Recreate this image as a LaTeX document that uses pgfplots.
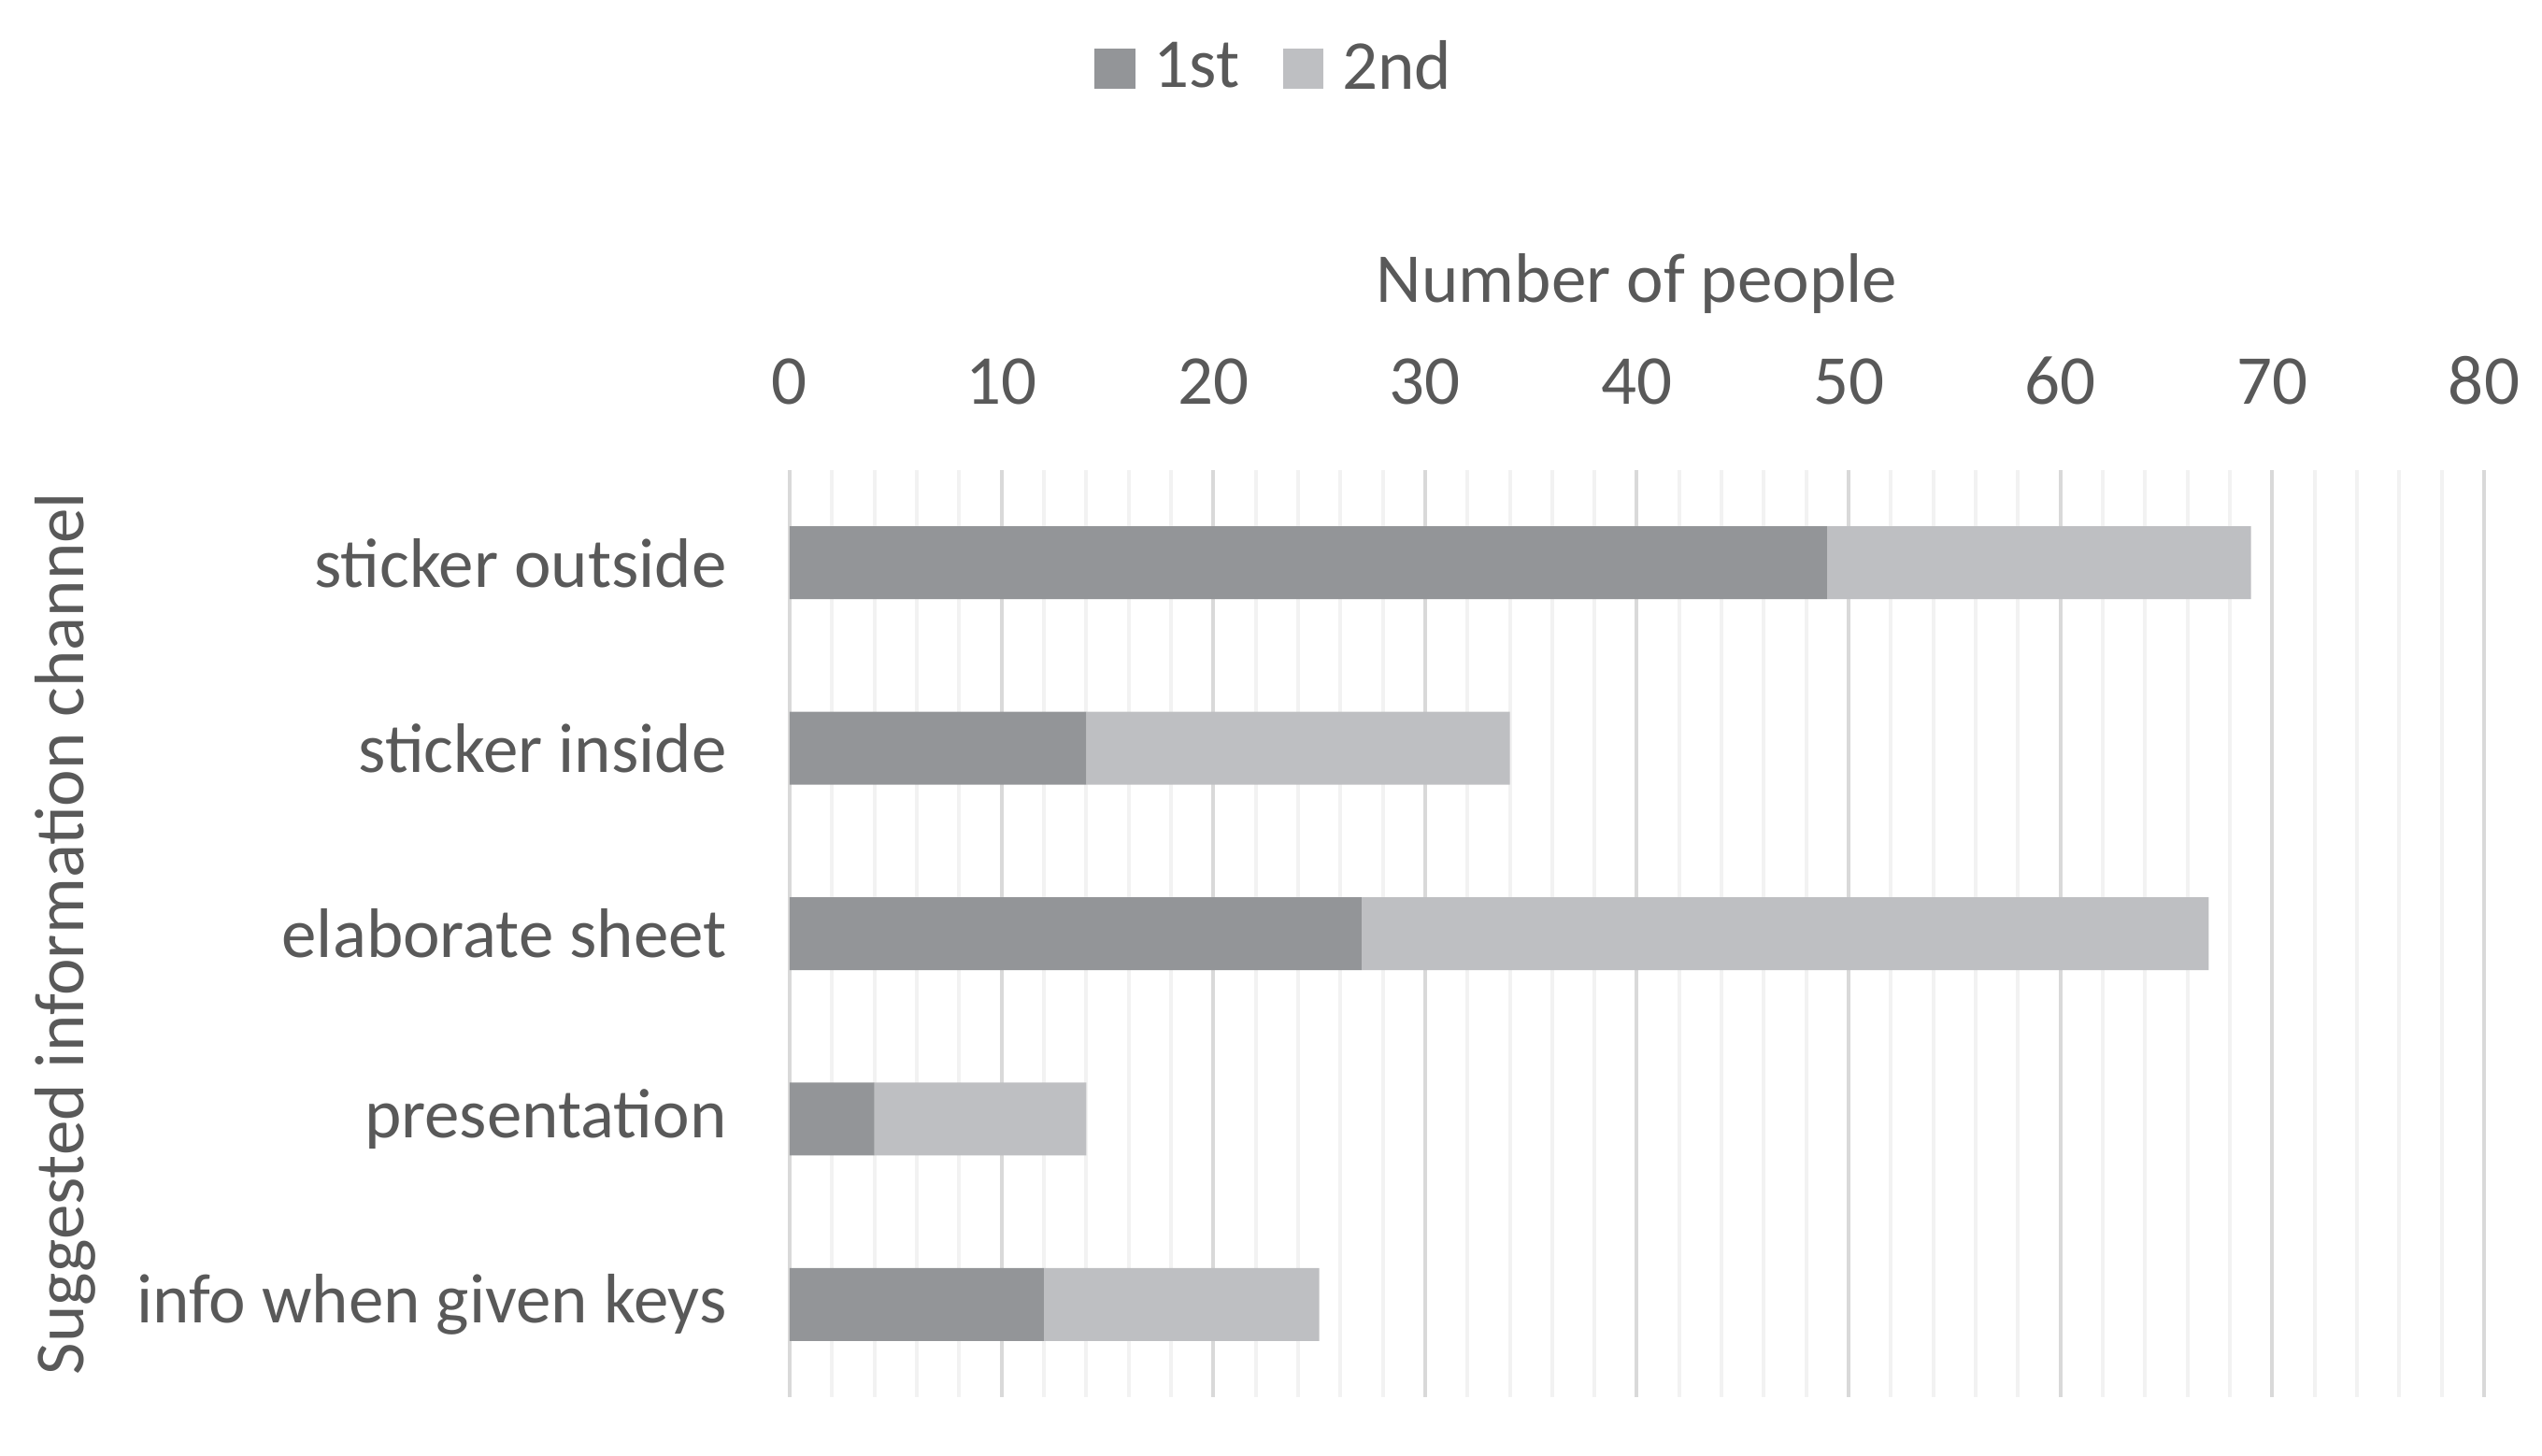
\documentclass[border=0pt]{standalone}
\usepackage{pgfplots}
\pgfplotsset{compat=1.18}
\usepackage{fontspec}
\setmainfont{Carlito}
\definecolor{txt}{HTML}{595959}
\definecolor{first}{HTML}{939598}
\definecolor{second}{HTML}{BEBFC2}
\definecolor{gmaj}{HTML}{D9D9D9}
\definecolor{gmin}{HTML}{F2F2F2}
\newcommand{\chartfont}{\fontsize{15}{18}\selectfont}

\begin{document}
\begin{tikzpicture}
\useasboundingbox (-169pt,-12.4pt) rectangle (375pt,299pt);
\begin{axis}[
    at={(0,0)}, anchor=south west,
    scale only axis,
    width=362.6pt, height=198.4pt,
    xbar stacked, bar width=15.6pt,
    xmin=0, xmax=80, ymin=0.5, ymax=5.5, y dir=reverse,
    xtick={0,10,...,80}, minor x tick num=4,
    ytick={1,2,3,4,5},
    yticklabels={sticker outside, sticker inside, elaborate sheet, presentation, info when given keys},
    xticklabel pos=upper,
    axis line style={draw=none},
    major tick length=0pt, minor tick length=0pt,
    xmajorgrids, xminorgrids,
    major grid style={gmaj, line width=0.8pt},
    minor grid style={gmin, line width=0.8pt},
    /pgf/number format/assume math mode=true,
    xticklabel style={font=\chartfont, text=txt, anchor=base, yshift=14.2pt},
    yticklabel style={font=\chartfont, text=txt, anchor=east, inner sep=0pt, xshift=-13.3pt},
    xlabel={Number of people},
    xlabel style={font=\chartfont, text=txt, at={(axis description cs:0.5,1)}, anchor=base, yshift=36pt},
    ylabel={Suggested information channel},
    ylabel style={font=\chartfont, text=txt, at={(axis description cs:-0.4275,0.5)}, anchor=center},
    legend style={at={(0.288,1.433)}, anchor=center, draw=none, font=\chartfont, text=txt,
        legend columns=2, /tikz/every even column/.append style={column sep=7.3pt}},
    legend image code/.code={\fill[#1] (0pt,-4.35pt) rectangle (8.7pt,4.35pt);
        \path (10.7pt,0pt);},
]

% 1st choice
\addplot[fill=first, draw=none] coordinates {
    (49,1) (14,2) (27,3) (4,4) (12,5)
};
\addlegendentry{1st}

% 2nd choice
\addplot[fill=second, draw=none] coordinates {
    (20,1) (20,2) (40,3) (10,4) (13,5)
};
\addlegendentry{2nd}

\end{axis}
\end{tikzpicture}
\end{document}
